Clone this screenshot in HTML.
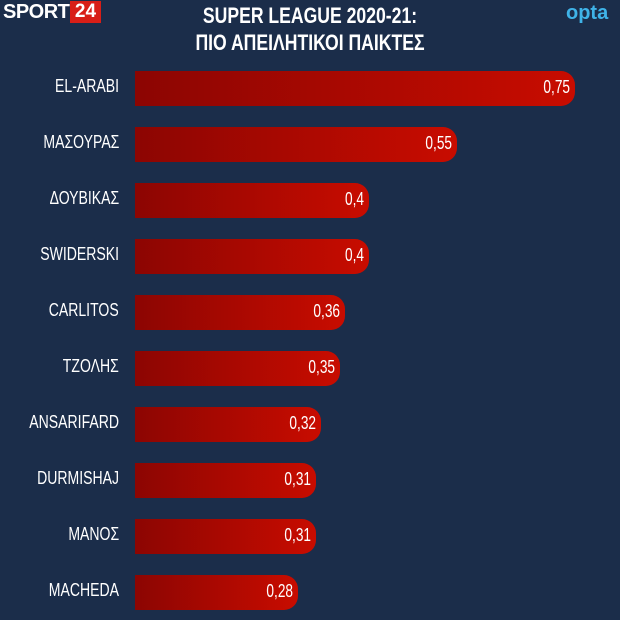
<!DOCTYPE html>
<html><head><meta charset="utf-8"><style>
body{margin:0;width:620px;height:620px;background:#1b2d4a;font-family:"Liberation Sans",sans-serif;color:#fff;position:relative;overflow:hidden}
.t{position:absolute;left:0;width:620px;text-align:center;font-weight:bold;font-size:22px;transform:scaleX(0.8);transform-origin:310px 0}
.bar{position:absolute;left:135px;height:35px;border-radius:0 14px 14px 0;background:linear-gradient(90deg,#8c0502,#c80c00);}
.v{position:absolute;right:5px;top:-1px;line-height:35px;font-size:18px;transform:scaleX(0.76);transform-origin:100% 50%}
.l{position:absolute;right:501px;line-height:35px;font-size:18px;text-align:right;white-space:nowrap;transform:scaleX(0.78);transform-origin:100% 50%}
</style></head><body>
<div style="position:absolute;left:3px;top:1px;font-weight:bold;font-size:20px;letter-spacing:-0.5px">SPORT</div>
<div style="position:absolute;left:70px;top:1px;width:31px;height:22px;background:#d81e17;font-weight:bold;font-size:19px;text-align:center;line-height:22px">24</div>
<div style="position:absolute;left:566px;top:2px;font-weight:bold;font-size:20px;color:#3fb3e8">opta</div>
<div class="t" style="top:3px">SUPER LEAGUE 2020-21:</div>
<div class="t" style="top:30px">ΠΙΟ ΑΠΕΙΛΗΤΙΚΟΙ ΠΑΙΚΤΕΣ</div>

<div class="l" style="top:69px">EL-ARABI</div><div class="bar" style="top:71px;width:440px"><span class="v">0,75</span></div>
<div class="l" style="top:125px">ΜΑΣΟΥΡΑΣ</div><div class="bar" style="top:127px;width:322px"><span class="v">0,55</span></div>
<div class="l" style="top:181px">ΔΟΥΒΙΚΑΣ</div><div class="bar" style="top:183px;width:234px"><span class="v">0,4</span></div>
<div class="l" style="top:237px">SWIDERSKI</div><div class="bar" style="top:239px;width:234px"><span class="v">0,4</span></div>
<div class="l" style="top:293px">CARLITOS</div><div class="bar" style="top:295px;width:210px"><span class="v">0,36</span></div>
<div class="l" style="top:349px">ΤΖΟΛΗΣ</div><div class="bar" style="top:351px;width:205px"><span class="v">0,35</span></div>
<div class="l" style="top:405px">ANSARIFARD</div><div class="bar" style="top:407px;width:186px"><span class="v">0,32</span></div>
<div class="l" style="top:461px">DURMISHAJ</div><div class="bar" style="top:463px;width:181px"><span class="v">0,31</span></div>
<div class="l" style="top:517px">ΜΑΝΟΣ</div><div class="bar" style="top:519px;width:181px"><span class="v">0,31</span></div>
<div class="l" style="top:573px">MACHEDA</div><div class="bar" style="top:575px;width:163px"><span class="v">0,28</span></div>
</body></html>
